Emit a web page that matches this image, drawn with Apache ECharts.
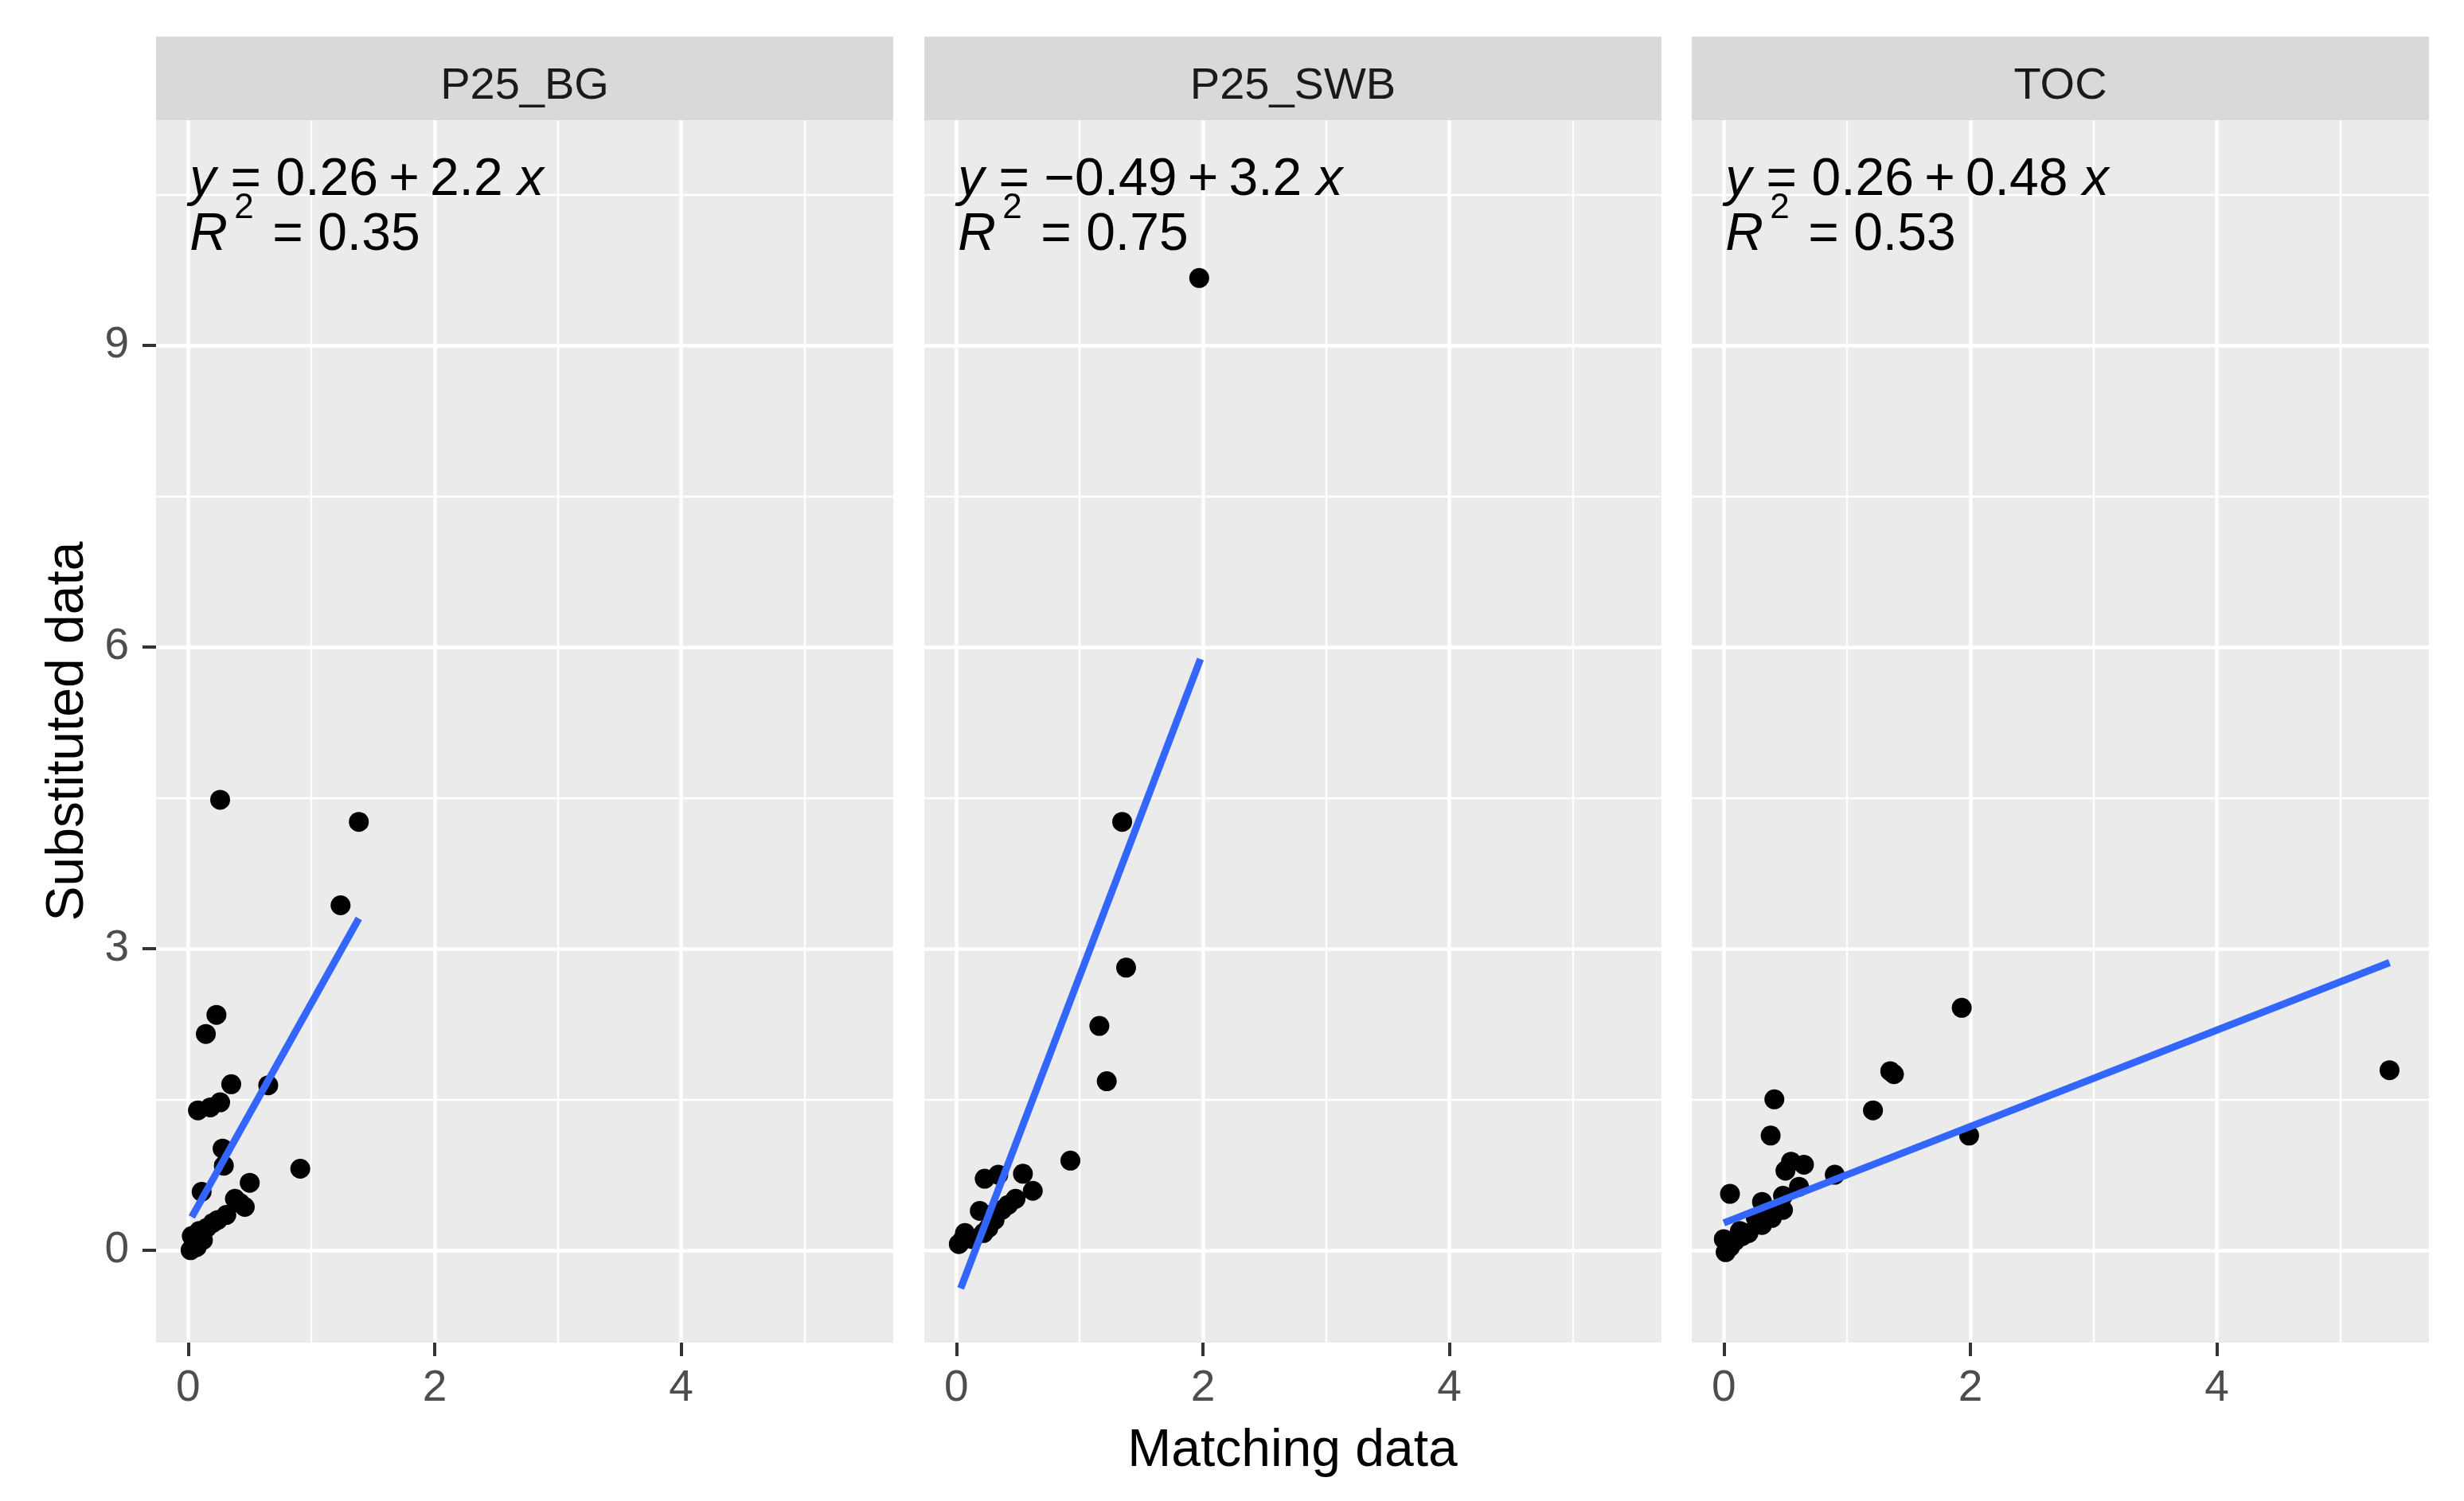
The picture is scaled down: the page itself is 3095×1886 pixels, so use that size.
<!DOCTYPE html>
<html><head><meta charset="utf-8">
<script src="https://cdn.jsdelivr.net/npm/echarts@6/dist/echarts.min.js"></script>
<style>html,body{margin:0;padding:0;background:#fff}#c{width:3095px;height:1886px}</style>
</head><body><div id="c"></div>
<script>
// ---------- data ----------
const panelNames = ['P25_BG', 'P25_SWB', 'TOC'];

const bgX = [0.26, 1.385, 1.237, 0.23, 0.144, 0.35, 0.65, 0.08, 0.18, 0.26, 0.28, 0.29, 0.91, 0.50, 0.11, 0.38, 0.46, 0.31, 0.20, 0.09, 0.05, 0.03, 0.15, 0.24, 0.07, 0.42, 0.12, 0.02];
const bgY = [4.48, 4.26, 3.43, 2.34, 2.15, 1.65, 1.64, 1.39, 1.42, 1.47, 1.01, 0.84, 0.81, 0.67, 0.58, 0.51, 0.43, 0.35, 0.27, 0.19, 0.06, 0.14, 0.22, 0.30, 0.03, 0.47, 0.10, 0.00];

const swbX = [1.97, 1.345, 1.377, 1.16, 1.22, 0.925, 0.23, 0.34, 0.54, 0.62, 0.48, 0.37, 0.19, 0.31, 0.26, 0.07, 0.02, 0.13, 0.22, 0.42, 0.05, 0.28];
const swbY = [9.67, 4.26, 2.81, 2.23, 1.68, 0.89, 0.71, 0.75, 0.76, 0.59, 0.51, 0.40, 0.39, 0.30, 0.22, 0.17, 0.06, 0.11, 0.17, 0.45, 0.10, 0.35];

const tocX = [1.93, 1.35, 1.38, 1.21, 1.99, 0.41, 0.38, 0.545, 0.65, 0.50, 0.90, 0.61, 0.05, 0.48, 0.31, 0.48, 0.39, 0.31, 0.20, 0.09, 0.015, 0.00, 0.13, 0.26, 5.40, 0.05, 0.15, 0.35];
const tocY = [2.41, 1.78, 1.75, 1.39, 1.14, 1.50, 1.14, 0.88, 0.85, 0.79, 0.75, 0.63, 0.56, 0.54, 0.48, 0.40, 0.32, 0.25, 0.17, 0.09, -0.02, 0.11, 0.19, 0.32, 1.79, 0.03, 0.14, 0.38];

// fitted line endpoints
const bgLineX = [0.03, 1.385];  const bgLineY = [0.33, 3.30];
const swbLineX = [0.035, 1.98]; const swbLineY = [-0.38, 5.88];
const tocLineX = [0.00, 5.40];  const tocLineY = [0.27, 2.86];

const eqIntercept = ['0.26', '\u22120.49', '0.26'];
const eqSlope = ['2.2', '3.2', '0.48'];
const eqR2 = ['0.35', '0.75', '0.53'];

const xMajor = [0, 2, 4];
const xMinor = [1, 3, 5];
const yMajor = [0, 3, 6, 9];
const yMinor = [1.5, 4.5, 7.5, 10.5];
const xRange = [-0.26, 5.72];
const yRange = [-0.92, 11.24];

// ---------- layout ----------
const FONT = '"Liberation Sans", Arial, sans-serif';
const lefts = [196, 1161, 2125];
const panelW = 926, panelTop = 151, panelH = 1536;
const stripTop = 46, stripH = 105;
const TS = '\u2009';

const pts = [[bgX, bgY], [swbX, swbY], [tocX, tocY]].map(([xs, ys]) => xs.map((v, i) => [v, ys[i]]));
const lines = [[bgLineX, bgLineY], [swbLineX, swbLineY], [tocLineX, tocLineY]].map(([xs, ys]) => xs.map((v, i) => [v, ys[i]]));

const grids = [], xAxes = [], yAxes = [], series = [], graphics = [];

lefts.forEach((left, g) => {
  grids.push({left: left, top: panelTop, width: panelW, height: panelH, show: true,
    backgroundColor: '#EBEBEB', borderWidth: 0, containLabel: false});
  xAxes.push({type: 'value', gridIndex: g, min: xRange[0], max: xRange[1], position: 'bottom',
    axisLine: {show: false, onZero: false},
    axisTick: {show: true, customValues: xMajor, length: 17, lineStyle: {color: '#333333', width: 4}},
    axisLabel: {show: true, customValues: xMajor, fontSize: 55, color: '#4D4D4D', fontFamily: FONT, margin: 30},
    splitLine: {show: true, lineStyle: {color: '#FFFFFF', width: 4.5}}, z: 1});
  xAxes.push({type: 'value', gridIndex: g, min: xRange[0], max: xRange[1], position: 'bottom',
    axisLine: {show: false, onZero: false}, axisTick: {show: false, customValues: xMinor},
    axisLabel: {show: false, customValues: xMinor},
    splitLine: {show: true, lineStyle: {color: '#FFFFFF', width: 2.3}}, z: 0});
  yAxes.push({type: 'value', gridIndex: g, min: yRange[0], max: yRange[1],
    axisLine: {show: false, onZero: false},
    axisTick: {show: g === 0, customValues: yMajor, length: 17, lineStyle: {color: '#333333', width: 4}},
    axisLabel: {show: g === 0, customValues: yMajor, fontSize: 55, color: '#4D4D4D', fontFamily: FONT, margin: 34},
    splitLine: {show: true, lineStyle: {color: '#FFFFFF', width: 4.5}}});
  yAxes.push({type: 'value', gridIndex: g, min: yRange[0], max: yRange[1],
    axisLine: {show: false, onZero: false}, axisTick: {show: false, customValues: yMinor},
    axisLabel: {show: false, customValues: yMinor},
    splitLine: {show: true, lineStyle: {color: '#FFFFFF', width: 2.3}}});

  series.push({type: 'scatter', name: panelNames[g], xAxisIndex: 2 * g, yAxisIndex: 2 * g,
    data: pts[g], symbolSize: 25, itemStyle: {color: '#000000', opacity: 1}, z: 3});
  series.push({type: 'line', xAxisIndex: 2 * g, yAxisIndex: 2 * g, data: lines[g],
    showSymbol: false, symbol: 'none', lineStyle: {color: '#3366FF', width: 9}, z: 4});

  // strip
  graphics.push({type: 'rect', shape: {x: left, y: stripTop, width: panelW, height: stripH},
    style: {fill: '#D9D9D9'}, silent: true});
  graphics.push({type: 'text', x: left + panelW / 2, y: stripTop + stripH / 2 + 10,
    style: {text: panelNames[g], font: '56px ' + FONT, fill: '#1A1A1A', align: 'center', verticalAlign: 'middle'}, silent: true});

  // equation labels
  const x0 = left + (0 - xRange[0]) / (xRange[1] - xRange[0]) * panelW + 2;
  graphics.push({type: 'text', x: x0, y: 227, z: 10,
    style: {text: '{i|y} = ' + eqIntercept[g] + TS + '+' + TS + eqSlope[g] + ' {i|x}', font: '66px ' + FONT, fill: '#000000',
      align: 'left', verticalAlign: 'middle',
      rich: {i: {fontStyle: 'italic', fontSize: 66, fontFamily: FONT, fill: '#000000'}}}, silent: true});
  graphics.push({type: 'text', x: x0, y: 296, z: 10,
    style: {text: 'R', font: 'italic 66px ' + FONT, fill: '#000000', align: 'left', verticalAlign: 'middle'}, silent: true});
  graphics.push({type: 'text', x: x0 + 56, y: 262, z: 10,
    style: {text: '2', font: '44px ' + FONT, fill: '#000000', align: 'left', verticalAlign: 'middle'}, silent: true});
  graphics.push({type: 'text', x: x0 + 104, y: 296, z: 10,
    style: {text: '= ' + eqR2[g], font: '66px ' + FONT, fill: '#000000', align: 'left', verticalAlign: 'middle'}, silent: true});
});

// axis titles
graphics.push({type: 'text', x: (lefts[0] + lefts[2] + panelW) / 2, y: 1824,
  style: {text: 'Matching data', font: '66px ' + FONT, fill: '#000000', align: 'center', verticalAlign: 'middle'}, silent: true});
graphics.push({type: 'text', x: 86, y: panelTop + panelH / 2, rotation: Math.PI / 2,
  style: {text: 'Substituted data', font: '66px ' + FONT, fill: '#000000', align: 'center', verticalAlign: 'middle'}, silent: true});

const chart = echarts.init(document.getElementById('c'), null, {renderer: 'canvas'});
chart.setOption({
  animation: false,
  backgroundColor: '#FFFFFF',
  grid: grids, xAxis: xAxes, yAxis: yAxes, series: series,
  graphic: {elements: graphics}
});
</script></body></html>
